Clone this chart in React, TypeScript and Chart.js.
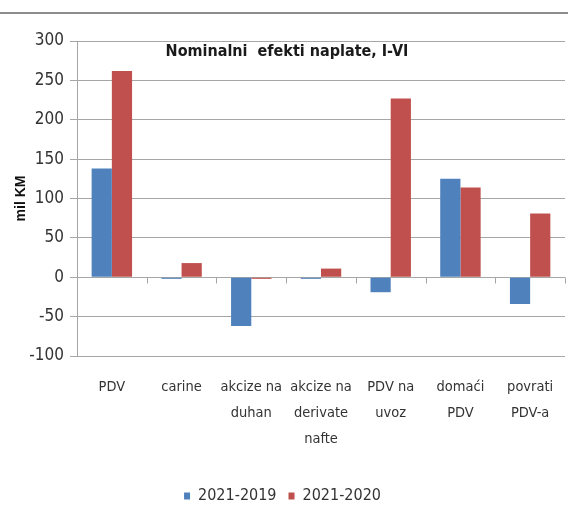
import React, { useEffect, useRef } from "react";
import { Chart, registerables } from "chart.js";

Chart.register(...registerables);

const categories: string[][] = [
  ["PDV"],
  ["carine"],
  ["akcize na", "duhan"],
  ["akcize na", "derivate", "nafte"],
  ["PDV na", "uvoz"],
  ["domaći", "PDV"],
  ["povrati", "PDV-a"],
];
const series2019: number[] = [138, -2, -62, -2, -19, 125, -34];
const series2020: number[] = [262, 18, -2, 11, 227, 114, 81];
const seriesNames: string[] = ["2021-2019", "2021-2020"];
const chartTitle = "Nominalni  efekti naplate, I-VI";
const yTitle = "mil KM";

const FONT = "'Liberation Sans Narrow', 'DejaVu Sans Condensed', 'Roboto', sans-serif";

const decor = {
  id: "decor",
  afterDraw(chart: any) {
    const { ctx, chartArea, scales } = chart;
    const y = scales.y;
    ctx.save();
    // top frame line
    ctx.strokeStyle = "#8c8c8c";
    ctx.lineWidth = 2;
    ctx.beginPath();
    ctx.moveTo(0, 13);
    ctx.lineTo(chart.width, 13);
    ctx.stroke();
    // zero-line category ticks
    const y0 = Math.round(y.getPixelForValue(0)) + 0.5;
    const n = categories.length;
    const w = (chartArea.right - chartArea.left) / n;
    ctx.strokeStyle = "#a6a6a6";
    ctx.lineWidth = 1;
    ctx.beginPath();
    for (let i = 1; i <= n; i++) {
      const px = Math.round(chartArea.left + i * w) + 0.5;
      ctx.moveTo(px, y0);
      ctx.lineTo(px, y0 + 6);
    }
    ctx.stroke();
    // title
    ctx.fillStyle = "#1a1a1a";
    ctx.font = "bold 16px " + FONT;
    ctx.textAlign = "center";
    ctx.textBaseline = "middle";
    ctx.fillText(chartTitle, 287, 52);
    ctx.restore();
  },
};

export default function App() {
  const ref = useRef<HTMLCanvasElement | null>(null);
  useEffect(() => {
    if (!ref.current) return;
    const chart = new Chart(ref.current, {
      type: "bar",
      data: {
        labels: categories,
        datasets: [
          {
            label: seriesNames[0],
            data: series2019,
            backgroundColor: "#4f81bd",
            categoryPercentage: 0.58,
            barPercentage: 1,
          },
          {
            label: seriesNames[1],
            data: series2020,
            backgroundColor: "#c0504d",
            categoryPercentage: 0.58,
            barPercentage: 1,
          },
        ],
      },
      options: {
        animation: false,
        responsive: false,
        maintainAspectRatio: false,
        layout: { padding: { left: 0, right: 3, top: 41, bottom: 5 } },
        plugins: {
          legend: {
            position: "bottom",
            labels: {
              boxWidth: 6,
              boxHeight: 7,
              padding: 12,
              color: "#333",
              font: { family: FONT, size: 16 },
            },
          },
          tooltip: { enabled: false },
          title: { display: false },
        },
        scales: {
          x: {
            grid: { display: false },
            border: { display: false },
            ticks: {
              color: "#333",
              padding: 10,
              maxRotation: 0,
              autoSkip: false,
              font: { family: FONT, size: 14.5, lineHeight: 1.8 },
            },
            afterFit(scale: any) {
              scale.height = 120;
            },
          },
          y: {
            min: -100,
            max: 300,
            ticks: {
              stepSize: 50,
              color: "#333",
              padding: 6,
              font: { family: FONT, size: 17 },
            },
            grid: { color: "#a6a6a6", tickLength: 7 },
            border: { display: true, color: "#a6a6a6" },
            title: {
              display: true,
              text: yTitle,
              color: "#111",
              padding: { top: 13, bottom: 0 },
              font: { family: "'Liberation Sans', Arial, sans-serif", size: 14, weight: "bold" },
            },
            afterFit(scale: any) {
              scale.width = 77;
            },
          },
        },
      },
      plugins: [decor],
    });
    return () => chart.destroy();
  }, []);
  return (
    <div style={{ position: "fixed", left: 0, top: 0, width: 568, height: 519, background: "#fff" }}>
      <canvas ref={ref} width={568} height={519} />
    </div>
  );
}
